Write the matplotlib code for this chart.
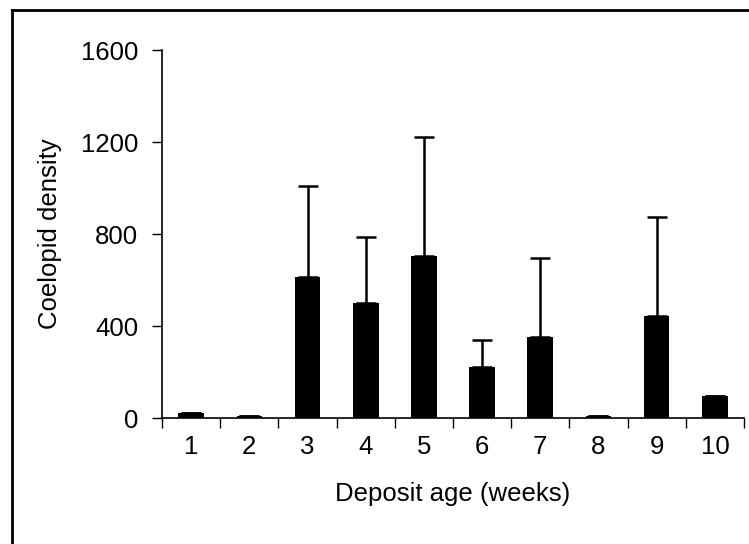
import numpy as np
import matplotlib.pyplot as plt
from matplotlib.lines import Line2D

# Data
weeks = ['1', '2', '3', '4', '5', '6', '7', '8', '9', '10']
density = [20, 10, 613, 500, 704, 222, 352, 10, 443, 95]
err_up = [0, 0, 396, 287, 518, 117, 343, 0, 431, 0]

plt.rcParams['font.family'] = ['Liberation Sans', 'DejaVu Sans']

fig = plt.figure(figsize=(7.49, 5.44), dpi=100)
ax = fig.add_axes([0.2163, 0.2316, 0.777, 0.6764])

x = np.arange(1, len(weeks) + 1)
yerr = np.array([np.zeros(len(err_up)), err_up])
ax.bar(x, density, width=0.44, color='black', zorder=2)
ax.errorbar(x, density, yerr=yerr, fmt='none', ecolor='black',
            elinewidth=1.8, capsize=7.5, capthick=1.8, zorder=3)

ax.set_xlim(0.5, 10.5)
ax.set_ylim(0, 1600)
ax.set_yticks([0, 400, 800, 1200, 1600])

# tick marks between categories, labels at centres
ax.set_xticks(np.arange(0.5, 11, 1))
ax.set_xticklabels([])
ax.set_xticks(x, minor=True)
ax.set_xticklabels(weeks, minor=True)
ax.tick_params(axis='x', which='major', direction='out', length=7, width=1)
ax.tick_params(axis='x', which='minor', length=0, pad=12, labelsize=18.5)
ax.tick_params(axis='y', direction='out', length=7, width=1, pad=10, labelsize=18.5)

for s in ['top', 'right']:
    ax.spines[s].set_visible(False)
for s in ['left', 'bottom']:
    ax.spines[s].set_linewidth(1.2)

ax.set_xlabel('Deposit age (weeks)', fontsize=18.5, labelpad=17)
ax.set_ylabel('Coelopid density', fontsize=18.5, labelpad=14)

# frame lines at the top and left of the figure
fig.add_artist(Line2D([12 / 749, 12 / 749], [0, 1 - 10 / 544], color='black', lw=2))
fig.add_artist(Line2D([12 / 749, 1], [1 - 10 / 544, 1 - 10 / 544], color='black', lw=2))

fig.savefig('out.png', dpi=100)
